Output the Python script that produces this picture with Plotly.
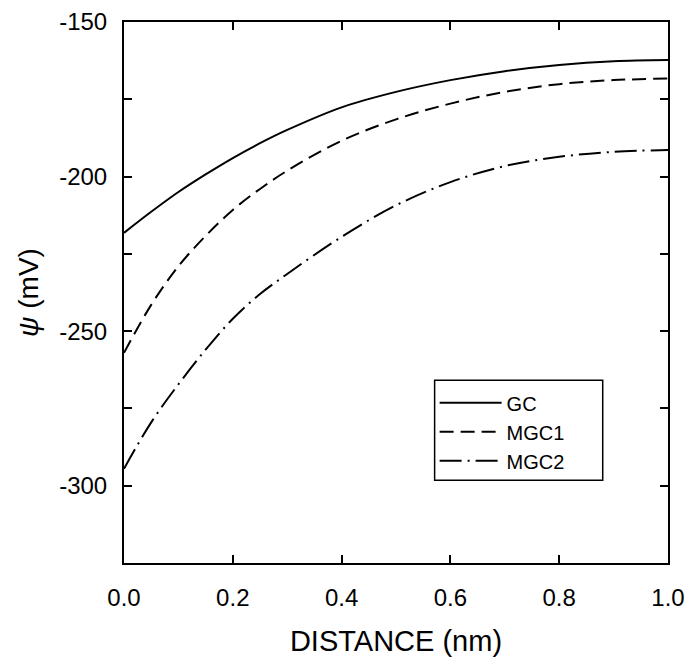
import plotly.graph_objects as go

distance = [0.0, 0.05, 0.1, 0.15, 0.2, 0.25, 0.3, 0.4, 0.5, 0.6, 0.7, 0.8, 0.9, 1.0]
gc = [-218.2, -211.4, -205.0, -199.3, -194.0, -189.2, -184.9, -177.6, -172.6, -168.8, -165.9, -163.9, -162.7, -162.3]
mgc1 = [-257.0, -241.5, -229.0, -219.2, -210.8, -204.0, -198.1, -188.4, -181.5, -176.4, -172.6, -170.1, -168.8, -168.3]
mgc2 = [-294.5, -279.5, -267.2, -256.0, -246.0, -238.0, -231.5, -219.5, -209.3, -201.8, -196.6, -193.6, -192.0, -191.4]

x_ticks = [0.0, 0.2, 0.4, 0.6, 0.8, 1.0]
x_ticktext = ["0.0", "0.2", "0.4", "0.6", "0.8", "1.0"]
y_ticks = [-325, -300, -275, -250, -225, -200, -175, -150]
y_ticktext = ["", "-300", "", "-250", "", "-200", "", "-150"]

FONT = "Liberation Sans, Arial, sans-serif"

fig = go.Figure()
fig.add_trace(go.Scatter(x=distance, y=gc, name="GC", mode="lines",
                         line=dict(color="black", width=2, shape="spline")))
fig.add_trace(go.Scatter(x=distance, y=mgc1, name="MGC1", mode="lines",
                         line=dict(color="black", width=2, dash="14px,7px", shape="spline")))
fig.add_trace(go.Scatter(x=distance, y=mgc2, name="MGC2", mode="lines",
                         line=dict(color="black", width=2, dash="22px,6px,2px,6px", shape="spline")))

# legend frame (wider than plotly's auto-sized legend box)
fig.add_shape(type="rect", xref="paper", yref="paper",
              x0=0.571, x1=0.880, y0=0.153, y1=0.338,
              line=dict(color="black", width=1.5), fillcolor="rgba(0,0,0,0)",
              layer="above")

fig.update_layout(
    width=689, height=660,
    margin=dict(l=124, r=21, t=22, b=97, autoexpand=False),
    paper_bgcolor="white", plot_bgcolor="white",
    font=dict(family=FONT, size=24, color="black"),
    showlegend=True,
    legend=dict(x=0.571, y=0.153, xanchor="left", yanchor="bottom",
                borderwidth=0, bgcolor="rgba(0,0,0,0)",
                font=dict(size=20), tracegroupgap=0, itemwidth=62),
    xaxis=dict(range=[0, 1], tickvals=x_ticks, ticktext=x_ticktext,
               ticks="inside", ticklen=8, tickwidth=1.5, tickcolor="black",
               showline=True, linecolor="black", linewidth=2, mirror="ticks",
               showgrid=False, zeroline=False, ticklabelstandoff=12,
               tickfont=dict(size=24), automargin=False,
               title=dict(text="DISTANCE (nm)", standoff=21, font=dict(size=29))),
    yaxis=dict(range=[-325, -150], tickvals=y_ticks, ticktext=y_ticktext,
               ticks="inside", ticklen=8, tickwidth=1.5, tickcolor="black",
               showline=True, linecolor="black", linewidth=2, mirror="ticks",
               showgrid=False, zeroline=False, ticklabelstandoff=10,
               tickfont=dict(size=24), automargin=False,
               title=dict(text="<i>ψ</i> (mV)", standoff=12, font=dict(size=28))),
)

fig.write_html("out.html")
